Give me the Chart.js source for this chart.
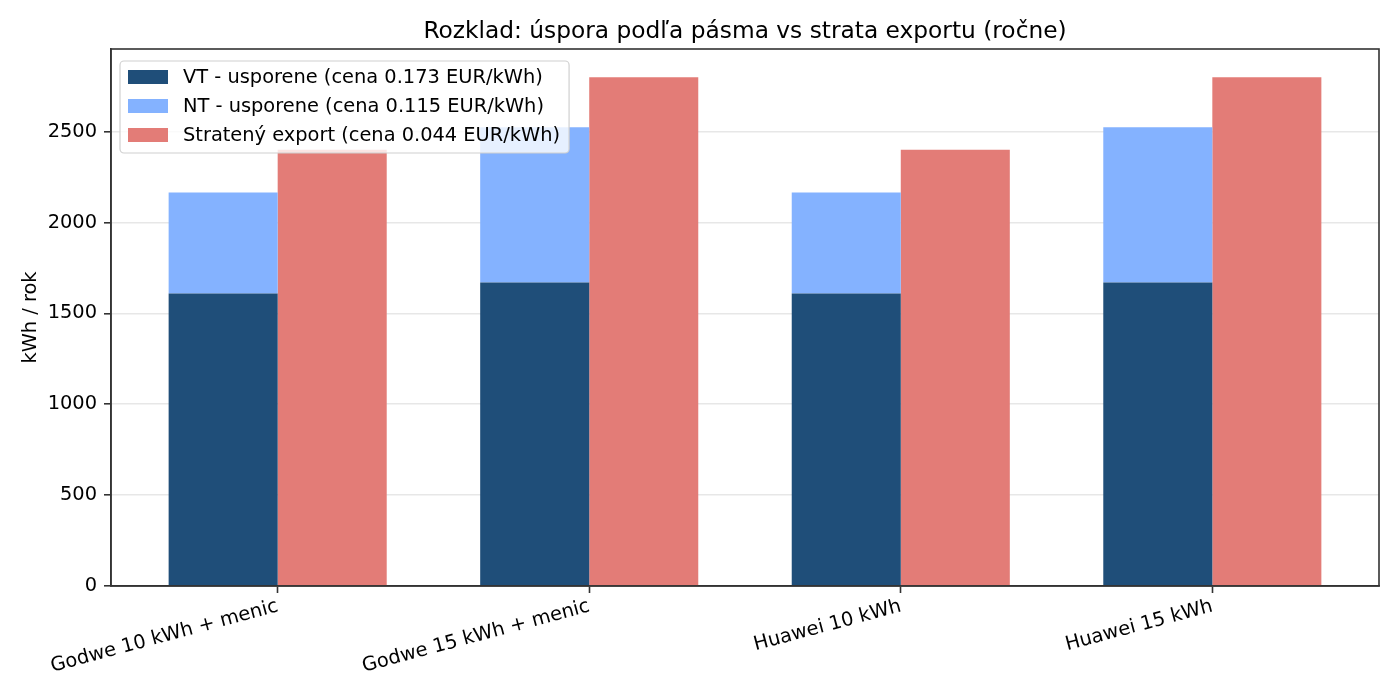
<!DOCTYPE html>
<html>
<head>
<meta charset="utf-8">
<script src="https://cdn.jsdelivr.net/npm/chart.js@4/dist/chart.umd.min.js"></script>
<style>
  html, body { margin: 0; padding: 0; background: #fff; }
  #wrap { width: 1400px; height: 700px; }
</style>
</head>
<body>
<div id="wrap"><canvas id="chart" width="1400" height="700"></canvas></div>
<script>
// data
const categories = ['Godwe 10 kWh + menic', 'Godwe 15 kWh + menic', 'Huawei 10 kWh', 'Huawei 15 kWh']
const vtSaved = [1610, 1670, 1610, 1670]
const ntSaved = [555, 855, 555, 855]
const lostExport = [2400, 2800, 2400, 2800]
const yTicks = [0, 500, 1000, 1500, 2000, 2500]

const seriesLabels = [
  'VT - usporene (cena 0.173 EUR/kWh)',
  'NT - usporene (cena 0.115 EUR/kWh)',
  'Stratený export (cena 0.044 EUR/kWh)'
]
const titleText = 'Rozklad: úspora podľa pásma vs strata exportu (ročne)'

const FONT = '"DejaVu Sans", sans-serif'
const FS = 19.4
const colors = ['#1f4e79', '#84b2ff', '#e37c77']

const toPoints = arr => arr.map((v, i) => ({ x: i, y: v }))

// title centred over the plot area (matplotlib style)
const titlePlugin = {
  id: 'axTitle',
  afterDraw(chart) {
    const { ctx, chartArea } = chart
    ctx.save()
    ctx.font = '23.3px ' + FONT
    ctx.fillStyle = '#000'
    ctx.textAlign = 'center'
    ctx.textBaseline = 'middle'
    ctx.fillText(titleText, (chartArea.left + chartArea.right) / 2, 32)
    ctx.restore()
  }
}

// top + right spines
const framePlugin = {
  id: 'frame',
  afterDraw(chart) {
    const { ctx, chartArea: a } = chart
    ctx.save()
    ctx.strokeStyle = '#333'
    ctx.lineWidth = 1.6
    ctx.strokeRect(a.left, a.top, a.right - a.left, a.bottom - a.top)
    ctx.restore()
  }
}

// legend inside the axes, upper left, on top of bars
const legendPlugin = {
  id: 'innerLegend',
  afterDraw(chart) {
    const { ctx, chartArea: a } = chart
    ctx.save()
    ctx.font = FS + 'px ' + FONT
    const widths = chart.data.datasets.map(d => ctx.measureText(d.label).width)
    const x = a.left + 9, y = a.top + 12
    const w = 63 + Math.max(...widths) + 9, h = 92
    ctx.beginPath()
    ctx.roundRect(x, y, w, h, 4)
    ctx.fillStyle = 'rgba(255,255,255,0.8)'
    ctx.fill()
    ctx.strokeStyle = '#d0d0d0'
    ctx.lineWidth = 1.2
    ctx.stroke()
    ctx.textBaseline = 'middle'
    chart.data.datasets.forEach((d, i) => {
      const cy = y + 16 + i * 29
      ctx.fillStyle = d.backgroundColor
      ctx.fillRect(x + 8, cy - 7, 40, 14)
      ctx.fillStyle = '#000'
      ctx.fillText(d.label, x + 63, cy + 1)
    })
    ctx.restore()
  }
}

new Chart(document.getElementById('chart'), {
  type: 'bar',
  data: {
    datasets: [
      { label: seriesLabels[0], data: toPoints(vtSaved), backgroundColor: colors[0], stack: 'saved' },
      { label: seriesLabels[1], data: toPoints(ntSaved), backgroundColor: colors[1], stack: 'saved' },
      { label: seriesLabels[2], data: toPoints(lostExport), backgroundColor: colors[2], stack: 'export' }
    ]
  },
  options: {
    responsive: false,
    animation: false,
    layout: { padding: { left: 0, top: 49, right: 21, bottom: 0 } },
    datasets: { bar: { categoryPercentage: 0.7, barPercentage: 1.0, borderWidth: 0 } },
    scales: {
      x: {
        type: 'linear',
        min: -0.535,
        max: 3.535,
        offset: false,
        afterBuildTicks: axis => { axis.ticks = categories.map((_, i) => ({ value: i })) },
        afterFit: axis => { axis.height = 114 },
        ticks: {
          autoSkip: false,
          minRotation: 15,
          maxRotation: 15,
          padding: 2,
          color: '#000',
          font: { family: FONT, size: FS },
          callback: v => categories[v]
        },
        grid: { offset: false, drawOnChartArea: false, tickLength: 7, tickColor: '#333', tickWidth: 1.6 },
        border: { color: '#333', width: 1.6 }
      },
      y: {
        stacked: true,
        min: 0,
        max: 2955,
        z: 1,
        afterBuildTicks: axis => { axis.ticks = yTicks.map(v => ({ value: v })) },
        afterFit: axis => { axis.width = 111 },
        ticks: { padding: 7, color: '#000', font: { family: FONT, size: FS }, callback: v => String(v) },
        grid: { color: 'rgba(176,176,176,0.3)', lineWidth: 1.6, tickLength: 7, tickColor: '#333', tickWidth: 1.6 },
        border: { color: '#333', width: 1.6 },
        title: { display: true, text: 'kWh / rok', color: '#000', font: { family: FONT, size: FS }, padding: { top: 19 } }
      }
    },
    plugins: {
      legend: { display: false },
      title: { display: false },
      tooltip: { enabled: false }
    }
  },
  plugins: [titlePlugin, framePlugin, legendPlugin]
})
</script>
</body>
</html>
